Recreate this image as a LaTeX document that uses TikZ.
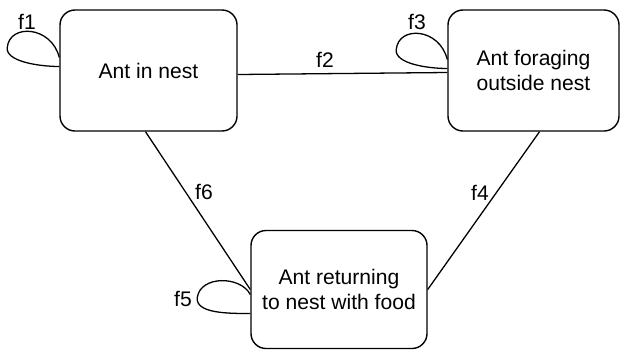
\documentclass[tikz,border=0pt]{standalone}
\usepackage{fontspec}
\setmainfont{Liberation Sans}
\usetikzlibrary{calc}
\begin{document}
\begin{tikzpicture}[x=0.03cm,y=-0.03cm,
  state/.style={draw, line width=1.2pt, rounded corners=0.45cm, align=center,
    font=\fontsize{18}{21}\selectfont, inner sep=0pt},
  conn/.style={line width=1.1pt},
  lbl/.style={font=\fontsize{18}{21}\selectfont, inner sep=0pt}]
\useasboundingbox (0,0) rectangle (621,352);
\node[state, minimum width=5.31cm, minimum height=3.63cm] (b1) at (148.5,70.5) {Ant in nest};
\node[state, minimum width=5.13cm, minimum height=3.63cm] (b2) at (533.5,70.5) {Ant foraging\\outside nest};
\node[state, minimum width=5.28cm, minimum height=3.54cm] (b3) at (339,289.5) {Ant returning\\to nest with food};
% connectors
\coordinate (e1) at ($(b1.east)+(0,4)$);
\coordinate (w2) at ($(b2.west)+(0,2)$);
\draw[conn] (e1) -- (w2);
\coordinate (s1) at ($(b1.south)+(-3,0)$);
\draw[conn] (s1) -- (b3.west);
\coordinate (s2) at ($(b2.south)+(6,0)$);
\draw[conn] (s2) -- (b3.east);
% self loops
\coordinate (a1) at ($(b1.west)+(0,-13)$);
\begin{scope}[shift={(a1)}]
\draw[conn] (0,0) .. controls (-8,-32) and (-50,-34) .. (-52,-10)
  .. controls (-54,4) and (-20,9) .. (0,9);
\end{scope}
\coordinate (a3) at ($(b2.west)+(0,-11)$);
\begin{scope}[shift={(a3)}]
\draw[conn] (0,0) .. controls (-8,-32) and (-49,-34) .. (-51,-10)
  .. controls (-53,4) and (-20,9) .. (0,9);
\end{scope}
\coordinate (a5) at ($(b3.west)+(0,5)$);
\begin{scope}[shift={(a5)}]
\draw[conn] (0,0) .. controls (-10,-19) and (-50,-19) .. (-53,3)
  .. controls (-55,19) and (-22,19) .. (0,19);
\end{scope}
% labels
\node[lbl] (l1) at (27,22) {f1};
\node[lbl] (l2) at (325,60) {f2};
\node[lbl] (l3) at (417,22) {f3};
\node[lbl] (l4) at (480,193) {f4};
\node[lbl] (l5) at (183,299) {f5};
\node[lbl] (l6) at (204,192) {f6};
\end{tikzpicture}
\end{document}
